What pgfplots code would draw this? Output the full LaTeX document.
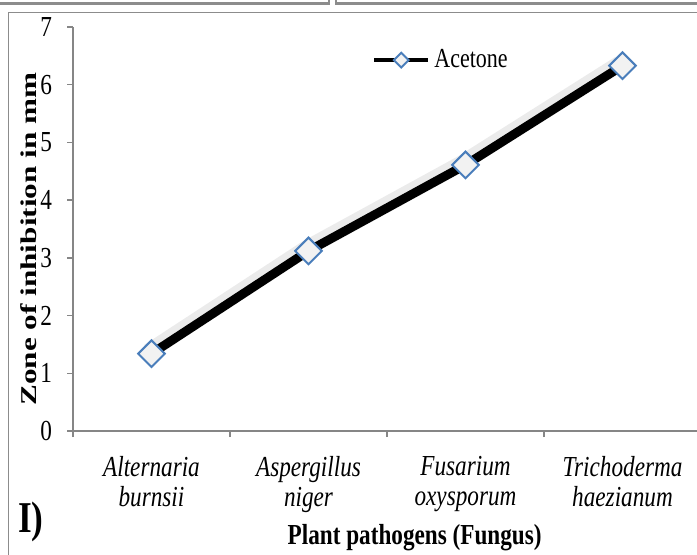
\documentclass[border=0pt]{standalone}
\usepackage{fontspec}
\setmainfont[FakeStretch=0.8]{Liberation Serif}
\newfontfamily\ylabfont[FakeStretch=1.38]{Liberation Serif}
\usepackage{pgfplots}
\pgfplotsset{compat=1.18}
\definecolor{axgray}{HTML}{868686}
\definecolor{mkblue}{HTML}{4A7EBB}
\definecolor{mkfill}{HTML}{F2F2F2}
\definecolor{framegray}{HTML}{8C8C8C}

\pgfplotstableread{
x y
0 1.34
1 3.12
2 4.61
3 6.33
}\datatable

\begin{document}
\begin{tikzpicture}
\useasboundingbox (0pt,0pt) rectangle (348.5pt,277pt);
\clip (0pt,0pt) rectangle (348.5pt,277pt);
\draw[framegray, line width=1.2pt] (-5pt,275.25pt) rectangle (164.5pt,300pt);
\draw[framegray, line width=1.2pt] (168pt,275.25pt) rectangle (355pt,300pt);
\draw[framegray, line width=0.8pt] (4.25pt,-10pt) -- (4.25pt,270.75pt) -- (355pt,270.75pt);
\begin{axis}[
  at={(36.5pt,61.5pt)}, anchor=south west,
  scale only axis, width=314pt, height=202pt,
  xmin=-0.5, xmax=3.5, ymin=0, ymax=7,
  axis lines*=left,
  axis line style={axgray, line width=0.75pt},
  tick style={axgray, line width=0.75pt},
  tick align=outside,
  major tick length=3pt,
  xtick={-0.5,0.5,1.5,2.5,3.5},
  xticklabels={},
  extra x ticks={0,1,2,3},
  extra x tick style={major tick length=0pt, tick style={draw=none},
    xticklabel style={align=center, font=\itshape\fontsize{14.5}{15}\selectfont, yshift=-9pt}},
  extra x tick labels={{Alternaria\\burnsii},{Aspergillus\\niger},{Fusarium\\oxysporum},{Trichoderma\\haezianum}},
  ytick={0,1,2,3,4,5,6,7},
  yticklabel style={font=\fontsize{14.5}{16}\selectfont, xshift=-4pt},
  /pgf/number format/assume math mode=true,
  xlabel={Plant pathogens (Fungus)},
  xlabel style={at={(axis description cs:0.544,-0.264)}, anchor=center, font=\bfseries\fontsize{14.5}{16}\selectfont},
  ylabel={Zone of inhibition in mm},
  ylabel style={at={(axis description cs:-0.07,0.475)}, anchor=center, font=\ylabfont\bfseries\fontsize{11.3}{13}\selectfont},
  legend style={draw=none, fill=none, at={(0.466,0.918)}, anchor=west, font=\fontsize{13.75}{16}\selectfont},
  legend image code/.code={\draw[line width=2.2pt, mark size=2.6pt, mark repeat=2, mark phase=2] plot coordinates {(0pt,0pt) (13.5pt,0pt) (27pt,0pt)};},
  clip=false,
]
\addplot[forget plot, black, opacity=0.08, line width=8pt, transform canvas={xshift=-1.5pt, yshift=1pt}] table {\datatable};
\addplot[black, line width=4.5pt, mark=square*, mark size=4.7pt,
  mark options={rotate=45, draw=mkblue, fill=mkfill, line width=1pt, solid}] table {\datatable};
\legend{Acetone}
\end{axis}
\node[font=\bfseries\fontsize{22}{24}\selectfont] at (15.5pt,16pt) {I)};
\end{tikzpicture}
\end{document}
